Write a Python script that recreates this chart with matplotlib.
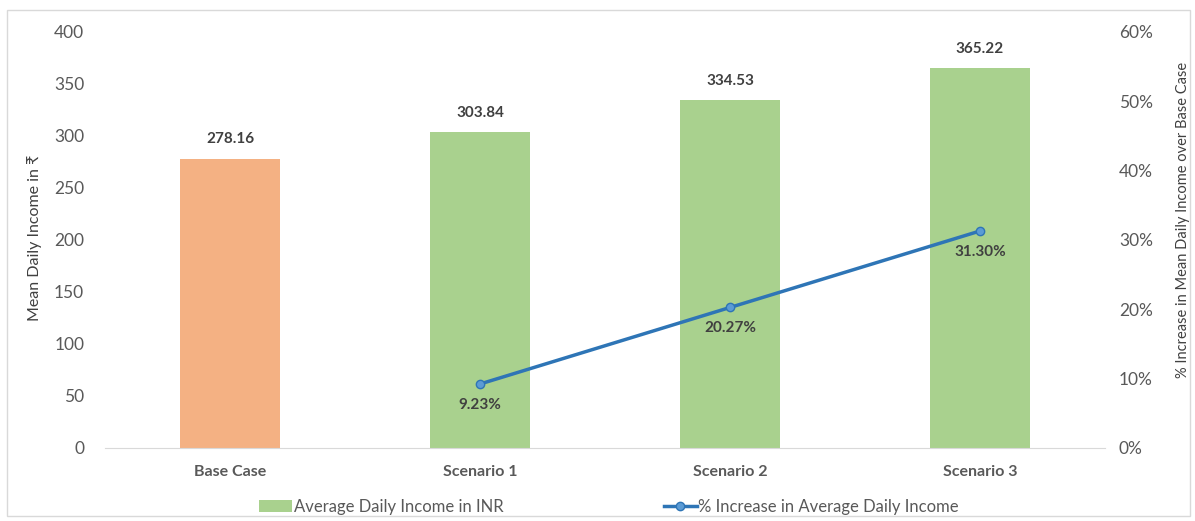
import matplotlib
matplotlib.use("Agg")
import matplotlib.pyplot as plt
from matplotlib.patches import Rectangle, Patch
from matplotlib.lines import Line2D
from matplotlib.ticker import FuncFormatter, MultipleLocator

plt.rcParams['font.family'] = ['Lato', 'DejaVu Sans']

categories = ["Base Case", "Scenario 1", "Scenario 2", "Scenario 3"]
income = [278.16, 303.84, 334.53, 365.22]
pct_cats = ["Scenario 1", "Scenario 2", "Scenario 3"]
pct_increase = [9.23, 20.27, 31.30]

bar_colors = ["#F4B183", "#A9D18E", "#A9D18E", "#A9D18E"]
line_color = "#2E75B6"
text_gray = "#595959"
label_dark = "#404040"

W, H = 1195, 521
fig = plt.figure(figsize=(W / 100, H / 100), dpi=100)
fig.patch.set_facecolor("white")
fig.add_artist(Rectangle((7 / W, 1 - 516 / H), (1190 - 7) / W, (516 - 10) / H,
                         transform=fig.transFigure, fill=False,
                         edgecolor="#D9D9D9", linewidth=1))

ax = fig.add_axes([105 / W, 1 - 448 / H, 1000 / W, 416 / H])
x = list(range(len(categories)))
ax.bar(x, income, width=0.4, color=bar_colors, zorder=2)
ax.set_xlim(-0.5, len(categories) - 0.5)
ax.set_ylim(0, 400)
ax.yaxis.set_major_locator(MultipleLocator(50))
ax.set_xticks(x)
ax.set_xticklabels(categories, fontsize=11.5, fontweight="bold", color=text_gray)
ax.tick_params(axis="x", length=0, pad=12)
ax.tick_params(axis="y", length=0, labelsize=12.5, labelcolor=text_gray, pad=15)
for s in ["top", "right", "left"]:
    ax.spines[s].set_visible(False)
ax.spines["bottom"].set_color("#D9D9D9")
ax.set_ylabel("Mean Daily Income in ₹", fontsize=11.5, color=label_dark)
ax.yaxis.set_label_coords(-0.063, 0.505)

for xi, v in zip(x, income):
    ax.annotate(f"{v:.2f}", (xi, v), xytext=(0, 9), textcoords="offset points",
                ha="center", va="bottom", fontsize=11, fontweight="bold", color=label_dark)

ax2 = ax.twinx()
ax2.set_ylim(0, 60)
ax2.yaxis.set_major_locator(MultipleLocator(10))
ax2.yaxis.set_major_formatter(FuncFormatter(lambda v, p: f"{v:.0f}%"))
ax2.tick_params(axis="y", length=0, labelsize=12.5, labelcolor=text_gray, pad=10)
for s in ["top", "right", "left", "bottom"]:
    ax2.spines[s].set_visible(False)
ax2.set_ylabel("% Increase in Mean Daily Income over Base Case", fontsize=10.5,
               color=label_dark)
ax2.yaxis.set_label_coords(1.071, 0.548)

px = [categories.index(c) for c in pct_cats]
ax2.plot(px, pct_increase, color=line_color, linewidth=2.5, marker="o", markersize=6,
         markerfacecolor="#5B9BD5", markeredgecolor=line_color, zorder=3)
for xi, v in zip(px, pct_increase):
    ax2.annotate(f"{v:.2f}%", (xi, v), xytext=(0, -10), textcoords="offset points",
                 ha="center", va="top", fontsize=11, fontweight="bold", color=label_dark)

handles = [Patch(facecolor="#A9D18E", edgecolor="none"),
           Line2D([0], [0], color=line_color, linewidth=2.5, marker="o", markersize=6,
                  markerfacecolor="#5B9BD5", markeredgecolor=line_color)]
labels = ["Average Daily Income in INR", "% Increase in Average Daily Income"]
fig.legend(handles, labels, loc="center", bbox_to_anchor=(609 / W, 1 - 507 / H), ncol=2,
           frameon=False, fontsize=12, labelcolor=text_gray, columnspacing=9.6,
           handlelength=2.0, handletextpad=0.1)

fig.savefig("out.png", dpi=100)
